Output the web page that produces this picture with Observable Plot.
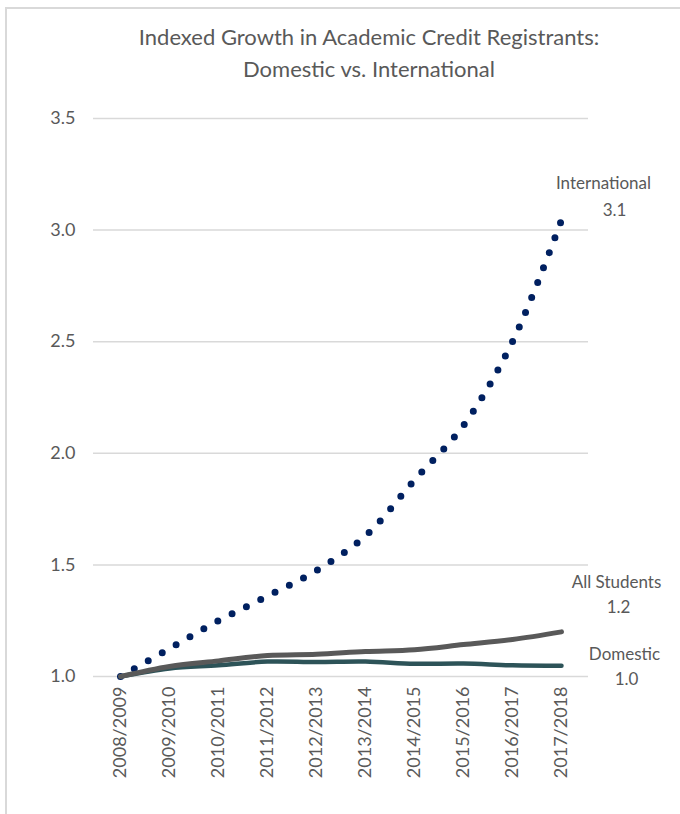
<!DOCTYPE html>
<html>
<head>
<meta charset="utf-8">
<script src="https://cdn.jsdelivr.net/npm/d3@7"></script>
<script src="https://cdn.jsdelivr.net/npm/@observablehq/plot@0.6"></script>
<style>
  html, body { margin: 0; padding: 0; background: #fff; }
  body { width: 680px; height: 814px; position: relative; overflow: hidden; font-family: Lato, "Open Sans", sans-serif; }
  #card { position: absolute; left: 5px; top: 7px; width: 760px; height: 900px; border-left: 2px solid #d9d9d9; border-top: 2px solid #d9d9d9; }
  #title { position: absolute; left: 69px; top: 21px; width: 600px; text-align: center; color: #595959; font-size: 22px; line-height: 32px; font-family: Lato, sans-serif; }
  #chart { position: absolute; left: 0; top: 90px; }
  #chart svg { overflow: visible; }
</style>
</head>
<body>
<div id="card"></div>
<div id="title">Indexed Growth in Academic Credit Registrants:<br>Domestic vs. International</div>
<div id="chart"></div>
<script>
const years = ["2008/2009","2009/2010","2010/2011","2011/2012","2012/2013","2013/2014","2014/2015","2015/2016","2016/2017","2017/2018"];
const international = [1.00, 1.125, 1.25, 1.36, 1.475, 1.63, 1.88, 2.125, 2.50, 3.045];
const allStudents = [1.00, 1.045, 1.07, 1.094, 1.10, 1.112, 1.12, 1.143, 1.166, 1.20];
const domestic = [1.00, 1.036, 1.05, 1.067, 1.065, 1.067, 1.057, 1.058, 1.05, 1.048];
const seriesNames = ["International", "All Students", "Domestic"];
const endLabels = ["3.1", "1.2", "1.0"];
const yTicks = [1.0, 1.5, 2.0, 2.5, 3.0, 3.5];

const rows = (vals) => years.map((y, i) => ({year: y, value: vals[i]}));
const intl = rows(international), all = rows(allStudents), dom = rows(domestic);
const last = years.length - 1;
const labelData = [
  {year: years[last], value: international[last], name: seriesNames[0], num: endLabels[0]},
  {year: years[last], value: allStudents[last], name: seriesNames[1], num: endLabels[1]},
  {year: years[last], value: domestic[last], name: seriesNames[2], num: endLabels[2]}
];
const offs = [
  {dx: 42, dy: -37, ndx: 53, ndy: -10},
  {dx: 55, dy: -49, ndx: 57, ndy: -24},
  {dx: 63, dy: -11, ndx: 65, ndy: 14}
];

const plot = Plot.plot({
  width: 680,
  height: 724,
  marginTop: 28,
  marginBottom: 138,
  marginLeft: 93,
  marginRight: 92,
  style: {fontFamily: "Lato, sans-serif", color: "#595959", background: "transparent"},
  x: {type: "point", domain: years, padding: 0.55, label: null},
  y: {domain: [1, 3.5], label: null},
  marks: [
    Plot.gridY(yTicks, {stroke: "#d9d9d9", strokeOpacity: 1, strokeWidth: 1.5}),
    Plot.axisY(yTicks, {tickSize: 0, tickPadding: 18, fontSize: 18, fill: "#595959", tickFormat: d3.format(".1f"), label: null}),
    Plot.axisX({tickSize: 0, tickRotate: -90, tickPadding: 10, fontSize: 18, fill: "#595959", label: null}),
    Plot.line(intl, {x: "year", y: "value", stroke: "#002060", strokeWidth: 7, strokeDasharray: "0 16", strokeLinecap: "round", curve: "catmull-rom"}),
    Plot.line(dom, {x: "year", y: "value", stroke: "#2d5358", strokeWidth: 4.5, curve: "catmull-rom"}),
    Plot.line(all, {x: "year", y: "value", stroke: "#595959", strokeWidth: 5, curve: "catmull-rom"}),
    ...labelData.map((d, i) => Plot.text([d], {x: "year", y: "value", text: "name", dx: offs[i].dx, dy: offs[i].dy, fontSize: 17, fill: "#595959", textAnchor: "middle"})),
    ...labelData.map((d, i) => Plot.text([d], {x: "year", y: "value", text: "num", dx: offs[i].ndx, dy: offs[i].ndy, fontSize: 17, fill: "#595959", textAnchor: "middle"}))
  ]
});
document.getElementById("chart").appendChild(plot);
</script>
</body>
</html>
